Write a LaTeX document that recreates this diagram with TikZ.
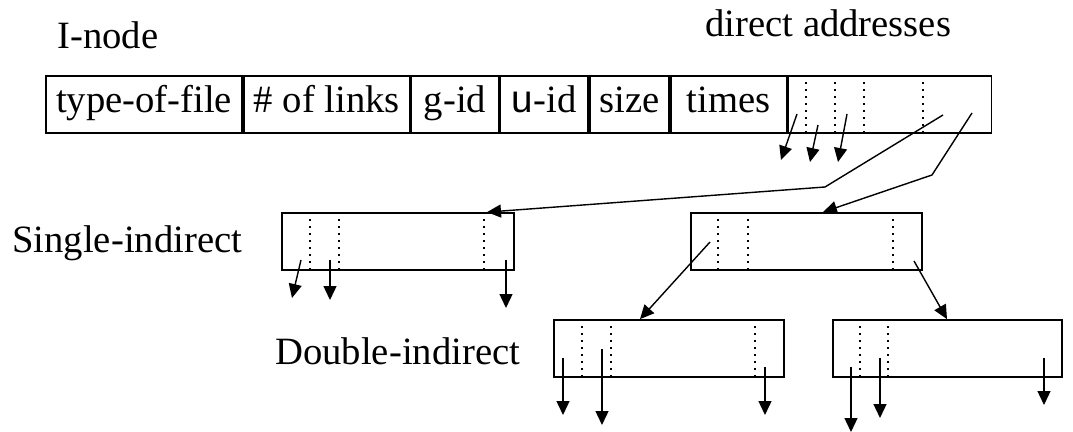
\documentclass[tikz,border=0pt]{standalone}
\usepackage{fontspec}
\setmainfont{Liberation Serif}
\setsansfont{Liberation Sans}
\usetikzlibrary{positioning, arrows.meta}

\tikzset{
  cell/.style={draw, line width=1pt, inner sep=0pt, minimum height=1.14cm, text height=2.2ex, text depth=.2ex},
  block/.style={draw, line width=1pt, inner sep=0pt, minimum height=1.14cm},
  sep/.style={line width=1.1pt, dash pattern=on 1pt off 3pt},
  ptr/.style={line width=0.8pt, -{Triangle[length=0.28cm,width=0.26cm]}},
  lbl/.style={anchor=base west, inner sep=0pt}
}

\begin{document}
\begin{tikzpicture}[x=0.02cm, y=-0.02cm, font=\fontsize{22}{26}\selectfont]
\useasboundingbox (0,0) rectangle (1073,432);

% labels
\node[lbl] (inode) at (57,49) {I-node};
\node[lbl] (addr) at (705,37) {direct addresses};
\node[lbl] (singlelbl) at (12,253) {Single-indirect};
\node[lbl] (doublelbl) at (275,365) {Double-indirect};

% I-node table
\node[cell, minimum width=3.92cm] (type) at (144,104.5) {type-of-file};
\node[cell, minimum width=3.32cm, right=0pt of type] (links) {\# of links};
\node[cell, minimum width=1.74cm, right=0pt of links] (gid) {g-id};
\node[cell, minimum width=1.76cm, right=0pt of gid] (uid) {{\sffamily u}-id};
\node[cell, minimum width=1.58cm, right=0pt of uid] (size) {size};
\node[cell, minimum width=2.32cm, right=0pt of size] (times) {times};
\node[cell, minimum width=4.06cm, right=0pt of times] (direct) {};

% index blocks
\node[block, minimum width=4.64cm] (single) at (398,241.5) {};
\node[block, minimum width=4.62cm] (dind) at (806.5,241.5) {};
\node[block, minimum width=4.6cm] (dleft) at (669,348.5) {};
\node[block, minimum width=4.58cm] (dright) at (947.5,348.5) {};

% dotted separators
\foreach \b/\x in {direct/806,direct/835,direct/864,direct/923,
                   single/310,single/339,single/484,
                   dind/718,dind/748,dind/893,
                   dleft/582,dleft/611,dleft/755,
                   dright/860,dright/888}
\draw[sep] (\x,0 |- \b.north) -- (\x,0 |- \b.south);

% pointers to data blocks
\foreach \xa/\ya/\xb/\yb in
{797/114/781/160, 818/125/810/162, 847/114/838/162,
 301/260/292/298, 330/260/330/300, 506/260/506/308,
 563/358/563/415, 602/349/602/425, 765/367/765/415,
 851/367/851/432, 880/358/880/418, 1044/358/1044/405}
\draw[ptr] (\xa,\ya) -- (\xb,\yb);

% pointers to index blocks
\coordinate (dA) at (943,115);
\coordinate (dB) at (972,113);
\coordinate (iA) at (710,242);
\coordinate (iB) at (914,261);
\draw[ptr] (dA) -- (825,187) -- (487,0 |- single.north);
\draw[ptr] (dB) -- (932,175) -- (823,0 |- dind.north);
\draw[ptr] (iA) -- (640,0 |- dleft.north);
\draw[ptr] (iB) -- (947,0 |- dright.north);
\end{tikzpicture}
\end{document}
